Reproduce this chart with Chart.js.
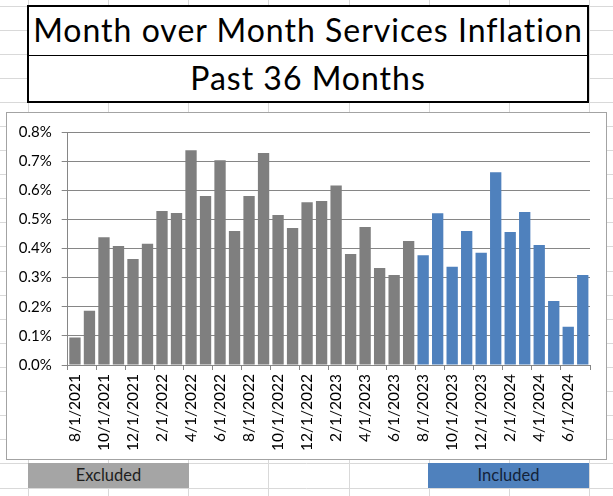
<!DOCTYPE html>
<html>
<head>
<meta charset="utf-8">
<script src="https://cdn.jsdelivr.net/npm/chart.js@4.4.1/dist/chart.umd.min.js"></script>
<style>
  html, body { margin: 0; padding: 0; background: #fff; }
  body { width: 613px; height: 496px; position: relative; overflow: hidden; font-family: Lato, "Open Sans", sans-serif; }
  #bg { position: absolute; left: 0; top: 0; }
  #titleBox { position: absolute; left: 27px; top: 5px; width: 558px; height: 94px; border: 2.5px solid #000; background: #fff; }
  #divider { position: absolute; left: 0; right: 0; top: 47.5px; height: 0; border-top: 1.3px solid #000; }
  .tline { position: absolute; left: 0; right: 0; text-align: center; font-size: 32px; letter-spacing: 1px; line-height: 38.4px; height: 38.4px; color: #000; white-space: nowrap; }
  #chartBox { position: absolute; left: 6px; top: 112px; width: 599px; height: 346px; border: 1px solid #a3a3a3; background: #fff; }
  .tag { position: absolute; top: 463px; height: 25px; width: 161px; text-align: center; font-size: 16.5px; line-height: 25px; }
</style>
</head>
<body>
<canvas id="bg" width="613" height="496"></canvas>
<div id="titleBox">
  <div class="tline" style="top:4.2px">Month over Month Services Inflation</div>
  <div id="divider"></div>
  <div class="tline" style="top:52.4px">Past 36 Months</div>
</div>
<div id="chartBox"><canvas id="c"></canvas></div>
<div class="tag" style="left:28px; background:#a5a5a5; color:#1e1e1e;">Excluded</div>
<div class="tag" style="left:428px; background:#4f81bd; color:#13233a;">Included</div>
<script>
const months = [
  "8/1/2021","9/1/2021","10/1/2021","11/1/2021","12/1/2021",
  "1/1/2022","2/1/2022","3/1/2022","4/1/2022","5/1/2022","6/1/2022","7/1/2022",
  "8/1/2022","9/1/2022","10/1/2022","11/1/2022","12/1/2022",
  "1/1/2023","2/1/2023","3/1/2023","4/1/2023","5/1/2023","6/1/2023","7/1/2023",
  "8/1/2023","9/1/2023","10/1/2023","11/1/2023","12/1/2023",
  "1/1/2024","2/1/2024","3/1/2024","4/1/2024","5/1/2024","6/1/2024","7/1/2024"
];
// Month-over-month services inflation, percent
const excludedValues = [
  0.094, 0.186, 0.439, 0.409, 0.364, 0.416, 0.529, 0.522, 0.737, 0.580, 0.703, 0.460,
  0.580, 0.728, 0.515, 0.470, 0.559, 0.563, 0.616, 0.381, 0.474, 0.333, 0.309, 0.426
];
const includedValues = [
  0.377, 0.521, 0.337, 0.460, 0.385, 0.662, 0.457, 0.525, 0.412, 0.220, 0.131, 0.309
];
const yTicks = [0.0, 0.1, 0.2, 0.3, 0.4, 0.5, 0.6, 0.7, 0.8];

const values = excludedValues.concat(includedValues);
const colors = excludedValues.map(() => '#7f7f7f').concat(includedValues.map(() => '#4f81bd'));

// Spreadsheet cell grid in background
(function () {
  const g = document.getElementById('bg').getContext('2d');
  g.strokeStyle = '#d9d9d9';
  g.lineWidth = 1;
  for (let x = 28; x < 613; x += 80.14) {
    const px = Math.round(x) + 0.5;
    g.beginPath(); g.moveTo(px, 0); g.lineTo(px, 496); g.stroke();
  }
  for (let y = 5.5; y < 496; y += 24.1) {
    const py = Math.round(y) + 0.5;
    g.beginPath(); g.moveTo(0, py); g.lineTo(613, py); g.stroke();
  }
})();

const axisGray = '#868686';

function build() {
  new Chart(document.getElementById('c'), {
    type: 'bar',
    data: {
      labels: months,
      datasets: [{
        data: values,
        backgroundColor: colors,
        borderWidth: 0,
        barPercentage: 0.78,
        categoryPercentage: 1.0
      }]
    },
    options: {
      responsive: true,
      maintainAspectRatio: false,
      animation: false,
      events: [],
      layout: { padding: { top: 18.7, right: 16, left: 0, bottom: 0 } },
      plugins: { legend: { display: false }, tooltip: { enabled: false }, title: { display: false } },
      scales: {
        x: {
          offset: true,
          grid: {
            display: true,
            offset: true,
            drawOnChartArea: false,
            drawTicks: true,
            tickLength: 5,
            color: (ctx) => (ctx.index === undefined || ctx.index % 2 === 0) ? axisGray : 'rgba(0,0,0,0)'
          },
          border: { display: true, color: axisGray, width: 1 },
          ticks: {
            autoSkip: false,
            minRotation: 90,
            maxRotation: 90,
            padding: 4,
            color: '#000',
            font: { family: 'Lato', size: 15.5 },
            callback: (v, i) => (i % 2 === 0 ? months[i] : '')
          },
          afterFit: (s) => { s.height = 94; }
        },
        y: {
          min: yTicks[0],
          max: yTicks[yTicks.length - 1],
          afterBuildTicks: (s) => { s.ticks = yTicks.map(v => ({ value: v })); },
          grid: { color: axisGray, tickLength: 6, drawTicks: true },
          border: { display: true, color: axisGray, width: 1 },
          ticks: {
            padding: 10,
            color: '#000',
            font: { family: 'Lato', size: 15 },
            callback: (v) => Number(v).toFixed(1) + '%'
          },
          afterFit: (s) => { s.width = 60.7; }
        }
      }
    }
  });
}

if (document.fonts && document.fonts.load) {
  Promise.all([document.fonts.load('15px Lato'), document.fonts.load('32px Lato')]).then(build, build);
} else {
  build();
}
</script>
</body>
</html>
